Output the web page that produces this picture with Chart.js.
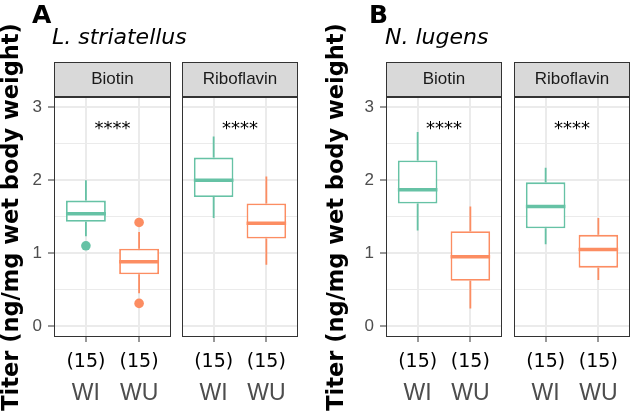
<!DOCTYPE html>
<html>
<head>
<meta charset="utf-8">
<script src="https://cdn.jsdelivr.net/npm/chart.js@4.4.1/dist/chart.umd.min.js"></script>
<style>
html,body{margin:0;padding:0;background:#fff;}
#wrap{position:relative;width:631px;height:412px;overflow:hidden;background:#fff;}
canvas{position:absolute;left:0;top:0;}
.hdr{position:absolute;white-space:nowrap;color:#000;line-height:1;font-family:"DejaVu Sans",sans-serif;}
.big{font-weight:bold;font-size:25px;}
.sp{font-style:italic;font-size:22px;}
</style>
</head>
<body>
<div id="wrap">
  <canvas id="c0" width="631" height="412"></canvas>
  <canvas id="c1" width="631" height="412"></canvas>
  <canvas id="c2" width="631" height="412"></canvas>
  <canvas id="c3" width="631" height="412"></canvas>
  <div class="hdr big" style="left:32px;top:2px;">A</div>
  <div class="hdr sp" style="left:52px;top:26px;">L. striatellus</div>
  <div class="hdr big" style="left:369px;top:2px;">B</div>
  <div class="hdr sp" style="left:385px;top:26px;">N. lugens</div>
</div>
<script>
// ---- data ----
const groups = ['WI', 'WU'];
const counts = ['(15)', '(15)'];
const facets = ['Biotin', 'Riboflavin'];
const yTicks = [0, 1, 2, 3];
const yMinor = [0.5, 1.5, 2.5];
const yTitle = 'Titer (ng/mg wet body weight)';
const sigLabel = '****';
const sigY = 2.75;
// [lower whisker, Q1, median, Q3, upper whisker]
const lsBiotinWI = [1.23, 1.43, 1.54, 1.72, 2.00];
const lsBiotinWU = [0.45, 0.71, 0.88, 1.06, 1.29];
const lsRiboWI   = [1.48, 1.77, 2.00, 2.31, 2.60];
const lsRiboWU   = [0.84, 1.20, 1.41, 1.68, 2.05];
const nlBiotinWI = [1.31, 1.68, 1.87, 2.27, 2.66];
const nlBiotinWU = [0.24, 0.62, 0.95, 1.30, 1.64];
const nlRiboWI   = [1.12, 1.34, 1.64, 1.97, 2.17];
const nlRiboWU   = [0.63, 0.80, 1.05, 1.25, 1.48];
const lsBiotinWIOut = [1.10];
const lsBiotinWUOut = [1.42, 0.31];

// ---- style ----
const colors = ['#66C2A5', '#FC8D62'];
const HALF = 0.375;
const W = 631;
Chart.defaults.font.family = '"Liberation Sans", Arial, sans-serif';

const decor = {
  id: 'decor',
  beforeDraw(chart, args, o) {
    const ca = chart.chartArea, ctx = chart.ctx;
    ctx.save();
    ctx.fillStyle = '#D9D9D9';
    ctx.fillRect(ca.left, o.stripTop, ca.right - ca.left, ca.top - o.stripTop);
    ctx.strokeStyle = '#333333';
    ctx.lineWidth = 1;
    ctx.strokeRect(ca.left + 0.5, o.stripTop + 0.5, ca.right - ca.left - 1, ca.top - o.stripTop - 1);
    ctx.restore();
  },
  afterDraw(chart, args, o) {
    const ca = chart.chartArea, ctx = chart.ctx;
    const xs = chart.scales.x, ys = chart.scales.y;
    ctx.save();
    ctx.strokeStyle = '#333333';
    ctx.lineWidth = 1;
    ctx.strokeRect(ca.left + 0.5, ca.top + 0.5, ca.right - ca.left - 1, ca.bottom - ca.top - 1);
    // significance label
    ctx.fillStyle = '#000';
    ctx.font = '18px "DejaVu Sans"';
    ctx.textAlign = 'center';
    ctx.textBaseline = 'middle';
    ctx.fillText(o.sig, xs.getPixelForValue((1 + groups.length) / 2), ys.getPixelForValue(o.sigY) + 3.6);
    // counts
    ctx.font = '19px "DejaVu Sans"';
    o.counts.forEach((c, i) => {
      ctx.fillText(c, xs.getPixelForValue(i + 1), ca.bottom + 25);
    });
    ctx.restore();
  }
};

function buildDatasets(stats, outl) {
  const ds = [];
  stats.forEach((s, i) => {
    const x = i + 1;
    ds.push({type: 'line', data: [{x: x - HALF, y: s[2]}, {x: x + HALF, y: s[2]}],
      borderColor: colors[i], borderWidth: 3.5, pointRadius: 0, order: 0, borderCapStyle: 'butt'});
  });
  ds.push({type: 'bar', data: stats.map((s, i) => ({x: i + 1, y: [s[1], s[3]]})),
    backgroundColor: '#ffffff', borderColor: colors, borderWidth: 1.8, borderSkipped: false,
    barPercentage: 0.75, categoryPercentage: 1, grouped: false, order: 1});
  stats.forEach((s, i) => {
    const x = i + 1;
    ds.push({type: 'line', data: [{x, y: s[0]}, {x, y: s[1]}, {x, y: null}, {x, y: s[3]}, {x, y: s[4]}],
      borderColor: colors[i], borderWidth: 1.8, pointRadius: 0, spanGaps: false, order: 2});
  });
  const pts = [], pc = [];
  outl.forEach((arr, i) => arr.forEach(v => { pts.push({x: i + 1, y: v}); pc.push(colors[i]); }));
  ds.push({type: 'scatter', data: pts, pointRadius: 4.8, pointBackgroundColor: pc,
    pointBorderWidth: 0, order: 0});
  return ds;
}

const yAll = yTicks.concat(yMinor).sort((a, b) => a - b);

function makePanel(p) {
  const showY = p.yW > 0;
  new Chart(document.getElementById(p.id), {
    type: 'bar',
    data: {datasets: buildDatasets(p.stats, p.outl)},
    plugins: [decor],
    options: {
      responsive: false,
      animation: false,
      events: [],
      layout: {padding: {left: p.left - p.yW, right: W - p.right, top: 62, bottom: 0}},
      plugins: {
        legend: {display: false},
        tooltip: {enabled: false},
        title: {display: true, text: p.facet, fullSize: false, color: '#1A1A1A',
          font: {size: 17, weight: 'normal', lineHeight: 1.2}, padding: {top: 7.3, bottom: 7.3}},
        decor: {stripTop: 62, sig: sigLabel, sigY: sigY, counts: counts}
      },
      scales: {
        x: {
          type: 'linear', min: 0.4, max: 2.6, offset: false,
          afterBuildTicks: s => { s.ticks = groups.map((g, i) => ({value: i + 1})); },
          afterFit: s => { s.height = 75; s.paddingLeft = 0; s.paddingRight = 0; },
          ticks: {autoSkip: false, maxRotation: 0, padding: 11.5, color: '#4D4D4D',
            font: {size: 23, lineHeight: 3.5}, callback: v => groups[Math.round(v) - 1]},
          grid: {offset: false, color: '#EBEBEB', lineWidth: 2, tickColor: '#333333',
            tickLength: 5, tickWidth: 1},
          border: {display: false}
        },
        y: {
          type: 'linear', min: -0.151, max: 3.141,
          afterBuildTicks: s => { s.ticks = yAll.map(v => ({value: v})); },
          afterFit: s => { s.width = p.yW; },
          ticks: {display: showY, autoSkip: false, padding: 6, color: '#4D4D4D',
            font: {size: 17}, callback: v => (yTicks.includes(v) ? String(v) : '')},
          grid: {color: '#EBEBEB', drawTicks: showY, tickLength: 6, tickWidth: 1,
            lineWidth: c => (c.tick && yTicks.includes(c.tick.value) ? 2 : 1),
            tickColor: c => (c.tick && yTicks.includes(c.tick.value) ? '#333333' : 'rgba(0,0,0,0)')},
          border: {display: false},
          title: {display: showY, text: yTitle, color: '#000',
            font: {family: '"DejaVu Sans"', size: 22.5, weight: 'bold', lineHeight: 1.1},
            padding: {top: 0, bottom: 0}}
        }
      }
    }
  });
}

[
  {id: 'c0', left: 54, right: 171, yW: 54, facet: facets[0], stats: [lsBiotinWI, lsBiotinWU], outl: [lsBiotinWIOut, lsBiotinWUOut]},
  {id: 'c1', left: 182, right: 298, yW: 0, facet: facets[1], stats: [lsRiboWI, lsRiboWU], outl: [[], []]},
  {id: 'c2', left: 386, right: 502, yW: 61, facet: facets[0], stats: [nlBiotinWI, nlBiotinWU], outl: [[], []]},
  {id: 'c3', left: 514, right: 630, yW: 0, facet: facets[1], stats: [nlRiboWI, nlRiboWU], outl: [[], []]}
].forEach(makePanel);
</script>
</body>
</html>
